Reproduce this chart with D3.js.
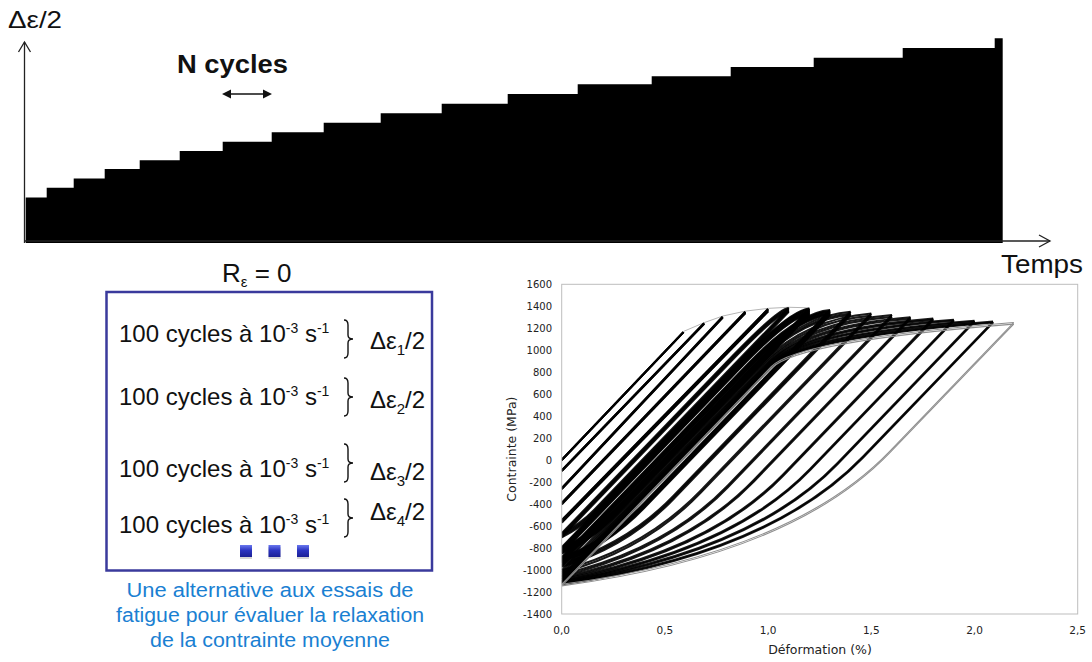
<!DOCTYPE html>
<html><head><meta charset="utf-8">
<script src="https://cdn.jsdelivr.net/npm/d3@7"></script>
<style>
html,body{margin:0;padding:0;background:#fff;}
svg{display:block;}
</style></head><body>
<svg id="fig" width="1092" height="662"></svg>
<script>
// ---------- Top panel: strain amplitude staircase vs time ----------
const stepStart = [0, 21, 48, 79, 114, 154, 197, 246, 298, 355, 416, 482, 552, 626, 705, 788, 877, 969];
const stepAmplitude = [0.245, 0.297, 0.346, 0.398, 0.444, 0.494, 0.544, 0.595, 0.646, 0.697, 0.748, 0.800, 0.853, 0.896, 0.946, 0.996, 1.048, 1.100];
const stepEnd = 977;

// ---------- Right panel: stress-strain hysteresis loops (one per amplitude level) ----------
const loopStrainMax   = [0.59, 0.69, 0.78, 0.89, 1.00, 1.10, 1.20, 1.30, 1.40, 1.50, 1.60, 1.69, 1.80, 1.90, 2.00, 2.09, 2.19];
const loopStressMax   = [1165, 1245, 1305, 1350, 1375, 1385, 1380, 1365, 1350, 1335, 1320, 1300, 1288, 1278, 1268, 1260, 1252];
const loopStressMin   = [0, -94, -256, -390, -548, -666, -794, -884, -939, -1003, -1040, -1066, -1085, -1100, -1110, -1121, -1130];
const loadKneeStress  = [null, null, null, null, null, 950, 900, 880, 870, 860, 860, 860, 855, 855, 850, 850, 850];
const unloadKneeStress= [null, null, null, null, null, -450, -420, -380, -330, -280, -230, -180, -130, -80, -30, 30, 80];
const unloadEndSlope  = [null, null, null, null, null, 900, 750, 650, 560, 500, 450, 400, 360, 330, 300, 270, 250];
// downward drift of the loop over the 100 cycles of each level (mean-stress relaxation)
const loopRelaxation  = [0, 4, 8, 12, 20, 35, 55, 45, 30, 20, 16, 14, 12, 10, 10, 8, 14];
const loopCycleCount  = [2, 2, 2, 2, 3, 4, 8, 7, 3, 2, 2, 2, 2, 2, 2, 2, 2];
const elasticSlope = 1950;   // MPa per % strain, read from the straight branches
const peakSlope = 150;       // MPa per %, slope of loading branch arriving at the peak

const stressTicks = [-1400, -1200, -1000, -800, -600, -400, -200, 0, 200, 400, 600, 800, 1000, 1200, 1400, 1600];
const strainTicks = [0, 0.5, 1.0, 1.5, 2.0, 2.5];

// ---------- Left panel texts ----------
const boxLineIndex = [1, 2, 3, 4];
const captionLines = ["Une alternative aux essais de", "fatigue pour évaluer la relaxation", "de la contrainte moyenne"];
const captionWidths = [287, 308, 240];

const svg = d3.select("#fig");
const FONT = "'Liberation Sans', Arial, sans-serif";
const XLFONT = "'DejaVu Sans', Verdana, sans-serif";

// ===== TOP PANEL =====
const xT = d3.scaleLinear().domain([0, stepEnd]).range([25.7, 1002.7]);
const yA = d3.scaleLinear().domain([0, 1.08]).range([243, 42]);
const stairData = stepStart.map((t, i) => ({t, a: stepAmplitude[i]}))
  .concat([{t: stepEnd, a: stepAmplitude[stepAmplitude.length - 1]}]);
const area = d3.area().x(d => xT(d.t)).y0(yA(0)).y1(d => yA(d.a)).curve(d3.curveStepAfter);
svg.append("path").attr("d", area(stairData)).attr("fill", "#000");

const topAxes = svg.append("g").attr("stroke", "#222").attr("fill", "none").attr("stroke-width", 1.3);
topAxes.append("line").attr("x1", 24.5).attr("x2", 24.5).attr("y1", yA(0)).attr("y2", 42);
topAxes.append("polyline").attr("points", "18.5,52 24.5,42 30.5,52");
topAxes.append("line").attr("x1", 24.5).attr("x2", 1050).attr("y1", 241).attr("y2", 241);
topAxes.append("polyline").attr("points", "1039,235 1050,241 1039,247");

svg.append("text").attr("x", 8).attr("y", 28).attr("font-family", FONT).attr("font-size", 24)
  .attr("textLength", 54).attr("lengthAdjust", "spacingAndGlyphs").attr("fill", "#111").text("Δε/2");
svg.append("text").attr("x", 177).attr("y", 73).attr("font-family", FONT).attr("font-size", 25)
  .attr("textLength", 111).attr("lengthAdjust", "spacingAndGlyphs")
  .attr("font-weight", "bold").attr("fill", "#111").text("N cycles");
svg.append("text").attr("x", 1001).attr("y", 273).attr("font-family", FONT).attr("font-size", 25)
  .attr("textLength", 82).attr("lengthAdjust", "spacingAndGlyphs").attr("fill", "#111").text("Temps");

svg.append("line").attr("x1", 229).attr("x2", 265).attr("y1", 94).attr("y2", 94)
  .attr("stroke", "#111").attr("stroke-width", 1.5);
svg.append("path").attr("d", "M222,94 L231,89.5 L231,98.5 Z M272,94 L263,89.5 L263,98.5 Z").attr("fill", "#111");

// ===== LEFT PANEL =====
const rt = svg.append("text").attr("x", 222).attr("y", 282).attr("font-family", FONT).attr("font-size", 26).attr("fill", "#111");
rt.append("tspan").text("R");
rt.append("tspan").attr("font-size", 15).attr("dy", 5).text("ε");
rt.append("tspan").attr("dy", -5).text(" = 0");

svg.append("rect").attr("x", 106.5).attr("y", 292).attr("width", 325.5).attr("height", 278.5)
  .attr("fill", "none").attr("stroke", "#3a3a9c").attr("stroke-width", 2.5);

const lineBase = [342, 405, 477, 533];
const labelBase = [349, 408, 480, 520];
const braceMid = [339, 397, 463, 518];
boxLineIndex.forEach((k, i) => {
  const t = svg.append("text").attr("x", 119).attr("y", lineBase[i]).attr("font-family", FONT)
    .attr("font-size", 24).attr("fill", "#111");
  t.append("tspan").text("100 cycles à 10");
  t.append("tspan").attr("font-size", 14).attr("dy", -9).text("-3");
  t.append("tspan").attr("dy", 9).text(" s");
  t.append("tspan").attr("font-size", 14).attr("dy", -9).text("-1");
  const m = braceMid[i], x0 = 344, h = 19;
  svg.append("path").attr("fill", "none").attr("stroke", "#111").attr("stroke-width", 1.4)
    .attr("d", `M${x0},${m - h} Q${x0 + 4},${m - h} ${x0 + 4},${m - h + 5} L${x0 + 4},${m - 4} Q${x0 + 4},${m} ${x0 + 9},${m} Q${x0 + 4},${m} ${x0 + 4},${m + 4} L${x0 + 4},${m + h - 5} Q${x0 + 4},${m + h} ${x0},${m + h}`);
  const l = svg.append("text").attr("x", 370).attr("y", labelBase[i]).attr("font-family", FONT)
    .attr("font-size", 24).attr("fill", "#111");
  l.append("tspan").text("Δε");
  l.append("tspan").attr("font-size", 15).attr("dy", 6).text(String(k));
  l.append("tspan").attr("dy", -6).text("/2");
});

const defs = svg.append("defs");
const g = defs.append("linearGradient").attr("id", "sq").attr("x1", 0).attr("y1", 0).attr("x2", 0).attr("y2", 1);
g.append("stop").attr("offset", 0).attr("stop-color", "#6a78ee");
g.append("stop").attr("offset", 0.45).attr("stop-color", "#2b34c0");
g.append("stop").attr("offset", 1).attr("stop-color", "#1a1f95");
[240, 268.5, 297].forEach(x => {
  svg.append("rect").attr("x", x).attr("y", 547).attr("width", 12).attr("height", 12).attr("fill", "#bbb").attr("opacity", 0.6);
  svg.append("rect").attr("x", x).attr("y", 545).attr("width", 12).attr("height", 12).attr("fill", "url(#sq)");
});

captionLines.forEach((s, i) => {
  svg.append("text").attr("x", 270).attr("y", 597 + 25 * i).attr("text-anchor", "middle")
    .attr("font-family", FONT).attr("font-size", 20).attr("fill", "#1a80d2")
    .attr("textLength", captionWidths[i]).attr("lengthAdjust", "spacingAndGlyphs").text(s);
});

// ===== RIGHT PANEL =====
const xS = d3.scaleLinear().domain([0, 2.5]).range([561.7, 1077.7]);
const yS = d3.scaleLinear().domain([-1400, 1600]).range([614, 284.3]);
const loc = d3.formatLocale({decimal: ",", thousands: "", grouping: [3], currency: ["", ""], minus: "-"});

defs.append("clipPath").attr("id", "plotclip").append("rect")
  .attr("x", xS(0)).attr("y", yS(1600)).attr("width", xS(2.5) - xS(0)).attr("height", yS(-1400) - yS(1600));

const loops = svg.append("g").attr("clip-path", "url(#plotclip)").attr("fill", "none");

function loopBranches(i, shift) {
  const em = loopStrainMax[i], sM = loopStressMax[i], sm = loopStressMin[i], E = elasticSlope;
  const pL = d3.path();
  pL.moveTo(xS(0), yS(sm + shift));
  const kL = loadKneeStress[i];
  if (kL == null) pL.lineTo(xS(em), yS(sM + shift));
  else {
    const ek = (kL - sm) / E;
    const ec = (sM - peakSlope * em - sm) / (E - peakSlope);
    const sc = sm + E * ec;
    pL.lineTo(xS(ek), yS(kL + shift));
    pL.quadraticCurveTo(xS(ec), yS(sc + shift), xS(em), yS(sM + shift));
  }
  const pU = d3.path();
  pU.moveTo(xS(em), yS(sM + shift));
  const kU = unloadKneeStress[i];
  if (kU == null) pU.lineTo(xS(0), yS(sm + shift));
  else {
    const ek = em - (sM - kU) / E;
    const s = unloadEndSlope[i];
    const ec = (sm - kU + E * ek) / (E - s);
    const sc = sm + s * ec;
    pU.lineTo(xS(ek), yS(kU + shift));
    pU.quadraticCurveTo(xS(ec), yS(sc + shift), xS(0), yS(sm + shift));
  }
  return [pL.toString(), pU.toString()];
}

loops.append("path")
  .attr("d", d3.line().x(d => xS(d[0])).y(d => yS(d[1] + 6))(loopStrainMax.slice(0, 7).map((e, i) => [e, loopStressMax[i]])))
  .attr("stroke", "#b5b5b5").attr("stroke-width", 1);

const nLev = loopStrainMax.length;
for (let i = 0; i < nLev; i++) {
  const last = i === nLev - 1;
  const n = loopCycleCount[i];
  d3.range(n).forEach(c => {
    const f = n > 1 ? c / (n - 1) : 0;
    const [dl, du] = loopBranches(i, -loopRelaxation[i] * f);
    [dl, du].forEach(d => loops.append("path").attr("d", d)
      .attr("stroke", last ? "#8e8e8e" : "#000")
      .attr("stroke-width", last ? 1.1 : 2.1)
      .attr("stroke-opacity", last ? 1 : 0.9));
  });
}

svg.append("rect").attr("x", xS(0)).attr("y", yS(1600)).attr("width", xS(2.5) - xS(0))
  .attr("height", yS(-1400) - yS(1600)).attr("fill", "none").attr("stroke", "#bdbdbd").attr("stroke-width", 1);

svg.append("g").selectAll("text").data(stressTicks).join("text")
  .attr("x", 552).attr("y", d => yS(d)).attr("dy", "0.36em").attr("text-anchor", "end")
  .attr("font-family", XLFONT).attr("font-size", 10).attr("fill", "#222")
  .text(d => loc.format("d")(d));
svg.append("g").selectAll("text").data(strainTicks).join("text")
  .attr("x", d => xS(d)).attr("y", 634).attr("text-anchor", "middle")
  .attr("font-family", XLFONT).attr("font-size", 10.5).attr("fill", "#222")
  .text(d => loc.format(".1f")(d));

svg.append("text").attr("x", 820).attr("y", 654).attr("text-anchor", "middle")
  .attr("font-family", XLFONT).attr("font-size", 12.5).attr("fill", "#222").text("Déformation (%)");
svg.append("text").attr("transform", `translate(516,${(yS(1600) + yS(-1400)) / 2}) rotate(-90)`)
  .attr("text-anchor", "middle").attr("font-family", XLFONT).attr("font-size", 12.5).attr("fill", "#222")
  .text("Contrainte (MPa)");
</script>
</body></html>
